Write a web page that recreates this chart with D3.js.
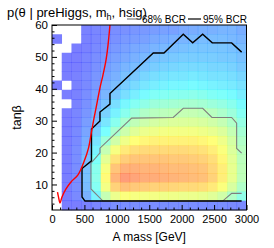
<!DOCTYPE html>
<html>
<head>
<meta charset="utf-8">
<script src="https://cdn.jsdelivr.net/npm/d3@7"></script>
<style>
  body { margin: 0; background: #fff; }
  text { font-family: "Liberation Sans", Arial, sans-serif; fill: #000; }
</style>
</head>
<body>
<div id="chart"></div>
<script>
let width_chart = 274;
let height_chart = 248;

// plot frame (pixels)
let frame = {left: 52, right: 246.5, top: 25, bottom: 210};

// bins: 20 x 20, mass 0..3000 step 150, tanb 2..60 step 2.9
let mass_edges = d3.range(0, 3001, 150);
let tanb_edges = d3.range(0, 21).map(k => 2 + k * 2.9);

let x_ticks = [0, 500, 1000, 1500, 2000, 2500, 3000];
let y_ticks = [10, 20, 30, 40, 50, 60];

// posterior density, rows from top (tanb high) to bottom; null = no sample
let N = null;
let density_rows = [
    [N, N, N, 0.02, 0.03, 0.04, 0.05, 0.06, 0.07, 0.08, 0.09, 0.10, 0.10, 0.12, 0.13, 0.14, 0.14, 0.15, 0.15, 0.13],
    [0.01, N, N, 0.02, 0.03, 0.05, 0.06, 0.08, 0.09, 0.10, 0.12, 0.13, 0.14, 0.15, 0.16, 0.17, 0.17, 0.17, 0.16, 0.15],
    [N, N, 0.01, 0.02, 0.04, 0.06, 0.08, 0.10, 0.12, 0.13, 0.15, 0.16, 0.17, 0.18, 0.19, 0.19, 0.19, 0.19, 0.18, 0.17],
    [N, 0.01, 0.01, 0.03, 0.05, 0.07, 0.10, 0.12, 0.14, 0.16, 0.18, 0.19, 0.20, 0.21, 0.21, 0.21, 0.21, 0.20, 0.20, 0.18],
    [N, 0.01, 0.01, 0.03, 0.06, 0.09, 0.12, 0.15, 0.17, 0.19, 0.21, 0.22, 0.23, 0.24, 0.24, 0.24, 0.23, 0.23, 0.22, 0.20],
    [N, 0.01, 0.02, 0.04, 0.07, 0.11, 0.14, 0.18, 0.20, 0.23, 0.25, 0.26, 0.27, 0.27, 0.28, 0.27, 0.26, 0.26, 0.25, 0.23],
    [0.01, N, 0.02, 0.04, 0.08, 0.13, 0.17, 0.21, 0.24, 0.27, 0.29, 0.30, 0.31, 0.31, 0.32, 0.31, 0.30, 0.29, 0.28, 0.26],
    [N, 0.01, 0.02, 0.05, 0.10, 0.15, 0.20, 0.25, 0.29, 0.32, 0.35, 0.36, 0.37, 0.37, 0.38, 0.37, 0.35, 0.34, 0.32, 0.29],
    [N, N, 0.02, 0.06, 0.12, 0.18, 0.25, 0.31, 0.36, 0.39, 0.42, 0.43, 0.44, 0.45, 0.45, 0.44, 0.42, 0.40, 0.37, 0.32],
    [N, 0.01, 0.03, 0.07, 0.14, 0.22, 0.30, 0.37, 0.43, 0.47, 0.49, 0.50, 0.51, 0.52, 0.52, 0.51, 0.49, 0.46, 0.42, 0.36],
    [N, 0.01, 0.03, 0.09, 0.17, 0.27, 0.37, 0.45, 0.51, 0.54, 0.56, 0.57, 0.58, 0.58, 0.58, 0.57, 0.55, 0.52, 0.47, 0.40],
    [N, 0.01, 0.04, 0.11, 0.21, 0.33, 0.45, 0.54, 0.59, 0.62, 0.63, 0.64, 0.64, 0.64, 0.64, 0.63, 0.61, 0.58, 0.52, 0.44],
    [N, 0.01, 0.04, 0.13, 0.26, 0.42, 0.55, 0.63, 0.67, 0.69, 0.70, 0.70, 0.70, 0.70, 0.70, 0.69, 0.67, 0.63, 0.56, 0.47],
    [N, 0.01, 0.05, 0.15, 0.30, 0.52, 0.65, 0.72, 0.75, 0.76, 0.76, 0.76, 0.76, 0.76, 0.75, 0.74, 0.71, 0.66, 0.58, 0.49],
    [N, 0.01, 0.05, 0.17, 0.34, 0.60, 0.74, 0.79, 0.81, 0.81, 0.81, 0.81, 0.80, 0.80, 0.79, 0.78, 0.75, 0.69, 0.60, 0.50],
    [N, 0.01, 0.05, 0.18, 0.37, 0.65, 0.81, 0.86, 0.86, 0.85, 0.85, 0.84, 0.83, 0.83, 0.82, 0.81, 0.77, 0.71, 0.61, 0.51],
    [N, 0.01, 0.05, 0.18, 0.38, 0.68, 0.85, 0.91, 0.89, 0.87, 0.87, 0.86, 0.85, 0.84, 0.83, 0.82, 0.78, 0.71, 0.61, 0.51],
    [N, 0.01, 0.05, 0.17, 0.36, 0.64, 0.78, 0.82, 0.80, 0.79, 0.78, 0.78, 0.77, 0.76, 0.76, 0.75, 0.72, 0.66, 0.57, 0.47],
    [N, 0.01, 0.04, 0.14, 0.30, 0.52, 0.62, 0.66, 0.65, 0.64, 0.64, 0.63, 0.63, 0.62, 0.62, 0.61, 0.59, 0.55, 0.47, 0.39],
    [N, 0.01, 0.01, 0.02, 0.03, 0.04, 0.05, 0.05, 0.05, 0.05, 0.05, 0.05, 0.05, 0.05, 0.05, 0.05, 0.05, 0.05, 0.04, 0.04]
];

// credible region contours [mass, tanb]
let bcr68_mass = [2925, 2771, 2632, 786, 601, 601, 740, 740, 1229, 1870, 2025, 2324, 2467, 2771, 2848, 2848, 2925];
let bcr68_tanb = [7.2, 7.2, 4.8, 4.8, 8.6, 16.7, 19.9, 21.4, 30.8, 31.0, 33.9, 33.9, 31.0, 31.0, 29.2, 21.3, 19.8];

let bcr95_mass = [2925, 2771, 2472, 2324, 2170, 2025, 1727, 1562, 894, 894, 740, 740, 609, 609, 463, 463, 509, 2925];
let bcr95_tanb = [51.5, 54.4, 54.4, 57.1, 54.4, 57.1, 51.2, 51.2, 38.5, 35.2, 32.7, 29.9, 27.4, 17.4, 15.0, 6.1, 4.8, 4.8];

// red limit curve
let limit_mass = [894, 864, 833, 786, 740, 694, 648, 609, 563, 493, 401, 293, 216, 154, 123, 100, 85];
let limit_tanb = [60, 53.7, 49.0, 44.3, 40.3, 35.5, 30.8, 26.5, 21.4, 17.1, 13.0, 10.8, 8.6, 6.1, 4.2, 6.1, 7.6];

let svg_chart = d3.select("#chart")
    .append("svg")
    .attr("width", width_chart)
    .attr("height", height_chart);

svg_chart.append("rect").attr("width", width_chart).attr("height", height_chart).attr("fill", "#fff");

let xScale = d3.scaleLinear().domain([0, 3000]).range([frame.left, frame.right]);
let yScale = d3.scaleLinear().domain([2, 60]).range([frame.bottom, frame.top]);

let colorScale = d3.scaleLinear()
    .domain([0, 0.17, 0.33, 0.5, 0.67, 0.83, 1])
    .range(["#0000ff", "#0080ff", "#00ffff", "#80ff80", "#ffff00", "#ff8000", "#ff0000"])
    .clamp(true);

let cells = [];
density_rows.forEach((row, r) => {
    let j = density_rows.length - 1 - r;
    row.forEach((v, i) => {
        if (v === null) return;
        cells.push({m0: mass_edges[i], m1: mass_edges[i + 1], t0: tanb_edges[j], t1: tanb_edges[j + 1], v: v});
    });
});

svg_chart.append("g").attr("id", "cells")
    .selectAll("rect")
    .data(cells)
    .join("rect")
    .attr("x", d => xScale(d.m0))
    .attr("y", d => yScale(d.t1))
    .attr("width", d => xScale(d.m1) - xScale(d.m0) + 0.3)
    .attr("height", d => yScale(d.t0) - yScale(d.t1) + 0.3)
    .attr("fill", d => colorScale(d.v))
    .attr("fill-opacity", 0.52);

svg_chart.append("clipPath").attr("id", "clip_frame")
    .append("rect")
    .attr("x", frame.left).attr("y", frame.top)
    .attr("width", frame.right - frame.left).attr("height", frame.bottom - frame.top);

let line = d3.line().x(d => xScale(d[0])).y(d => yScale(d[1]));
let zip = (a, b) => a.map((v, k) => [v, b[k]]);

let g_lines = svg_chart.append("g").attr("clip-path", "url(#clip_frame)");
g_lines.append("path").datum(zip(bcr68_mass, bcr68_tanb))
    .attr("d", line).attr("fill", "none").attr("stroke", "#7f7f7f").attr("stroke-width", 1.1);
g_lines.append("path").datum(zip(bcr95_mass, bcr95_tanb))
    .attr("d", line).attr("fill", "none").attr("stroke", "#000").attr("stroke-width", 1.4);
g_lines.append("path").datum(zip(limit_mass, limit_tanb))
    .attr("d", d3.line().curve(d3.curveCatmullRom).x(d => xScale(d[0])).y(d => yScale(d[1])))
    .attr("fill", "none").attr("stroke", "#ff0000").attr("stroke-width", 1.4);

// axes, ticks inside the frame
let x_minor = d3.range(0, 3001, 125).filter(v => v % 500 !== 0);
let y_minor = d3.range(4, 60, 2).filter(v => v % 10 !== 0);

let xAxis = d3.axisBottom(xScale).tickValues(x_ticks).tickSize(-5).tickPadding(5).tickFormat(d3.format("d"));
let yAxis = d3.axisLeft(yScale).tickValues(y_ticks).tickSize(-5).tickPadding(4).tickFormat(d3.format("d"));

let gx = svg_chart.append("g").attr("transform", "translate(0," + frame.bottom + ")").call(xAxis);
let gy = svg_chart.append("g").attr("transform", "translate(" + frame.left + ",0)").call(yAxis);
svg_chart.append("g").attr("transform", "translate(0," + frame.bottom + ")")
    .call(d3.axisBottom(xScale).tickValues(x_minor).tickSize(-2.5).tickFormat(""));
svg_chart.append("g").attr("transform", "translate(" + frame.left + ",0)")
    .call(d3.axisLeft(yScale).tickValues(y_minor).tickSize(-2.5).tickFormat(""));

svg_chart.selectAll(".domain").remove();
svg_chart.selectAll(".tick line").attr("stroke", "#000");
gx.selectAll("text").attr("font-size", 11).style("font-family", "Liberation Sans, Arial, sans-serif");
gy.selectAll("text").attr("font-size", 11.5).style("font-family", "Liberation Sans, Arial, sans-serif");

svg_chart.append("rect")
    .attr("x", frame.left).attr("y", frame.top)
    .attr("width", frame.right - frame.left).attr("height", frame.bottom - frame.top)
    .attr("fill", "none").attr("stroke", "#000").attr("stroke-width", 1);

// axis titles
svg_chart.append("text")
    .attr("x", (frame.left + frame.right) / 2).attr("y", 241)
    .attr("text-anchor", "middle").attr("font-size", 12)
    .text("A mass [GeV]");
svg_chart.append("text")
    .attr("transform", "translate(21," + ((frame.top + frame.bottom) / 2) + ") rotate(-90)")
    .attr("text-anchor", "middle").attr("font-size", 12.5)
    .text("tanβ");

// title
let title = svg_chart.append("text").attr("x", 7).attr("y", 17).attr("font-size", 13);
title.append("tspan").text("p(θ | preHiggs, m");
title.append("tspan").attr("font-size", 9).attr("dy", 3).text("h");
title.append("tspan").attr("dy", -3).text(", hsig)");

// legend
let legend_items = [
    {label: "68% BCR", color: "#7f7f7f", x: 127},
    {label: "95% BCR", color: "#000", x: 188}
];
let g_legend = svg_chart.append("g");
legend_items.forEach(d => {
    g_legend.append("line").attr("x1", d.x).attr("x2", d.x + 13).attr("y1", 19).attr("y2", 19)
        .attr("stroke", d.color).attr("stroke-width", 1.2);
    g_legend.append("text").attr("x", d.x + 15).attr("y", 22.5).attr("font-size", 10).text(d.label);
});
</script>
</body>
</html>
